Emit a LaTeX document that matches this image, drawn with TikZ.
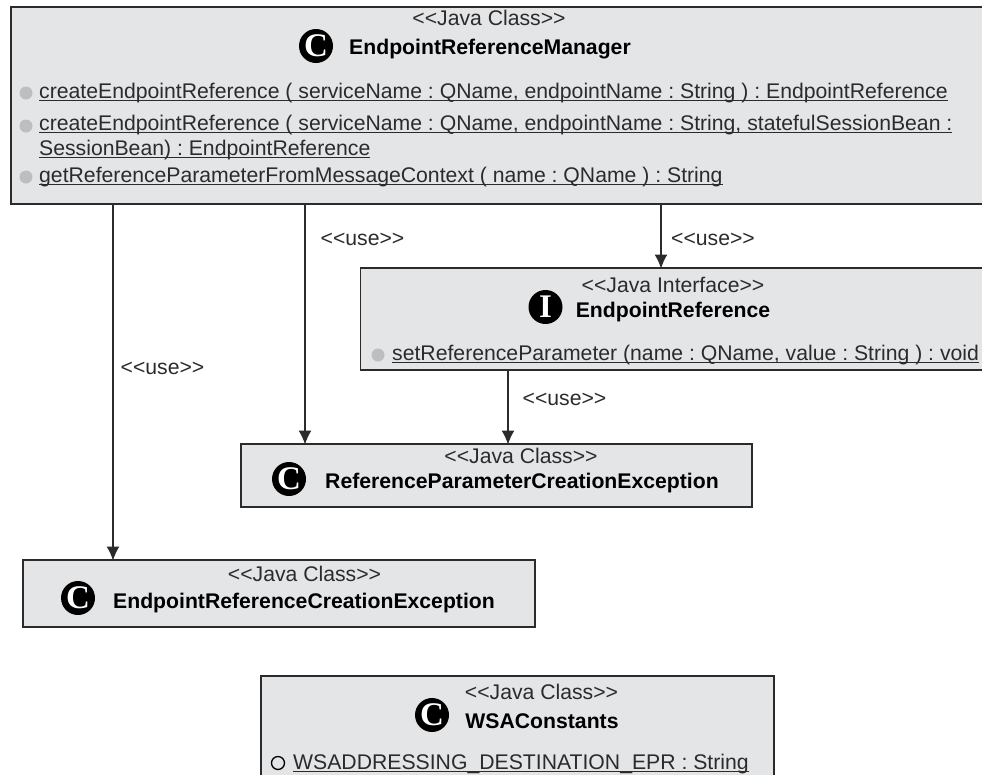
\documentclass[tikz,border=0pt]{standalone}
\usepackage{fontspec}
\setmainfont{Liberation Sans}
\newfontfamily\iconfont{Liberation Serif}
\usetikzlibrary{arrows.meta}
\definecolor{boxgray}{HTML}{E4E5E7}
\definecolor{dotgray}{HTML}{BDBEC0}
\definecolor{inkgray}{HTML}{2B2B2B}
\newcommand{\ulbl}[1]{\underline{\smash{#1}\rule[-1.2pt]{0pt}{0pt}}}
\newcommand{\stereotxt}[1]{<{}<#1>{}>}
\frenchspacing
\tikzset{
classbox/.style={draw=inkgray,line width=1.5pt,fill=boxgray},
txt/.style={inner sep=0pt,text=inkgray,font=\fontsize{21.2}{21.2}\selectfont},
stereo/.style={txt},
title/.style={inner sep=0pt,text=black,font=\fontsize{21.2}{21.2}\selectfont\bfseries},
member/.style={txt,anchor=base west},
icon/.style={circle,fill=black,text=white,inner sep=0pt,minimum size=34pt,font=\fontsize{33}{33}\iconfont\bfseries},
dot/.style={circle,fill=dotgray,inner sep=0pt,minimum size=13pt},
ring/.style={circle,draw=black,line width=1.3pt,inner sep=0pt,minimum size=13pt},
uselink/.style={draw=inkgray,line width=1.3pt,-{Latex[length=14pt,width=13pt]},shorten >=-0.5pt},
}
\begin{document}
\begin{tikzpicture}[x=1pt,y=-1pt]
\useasboundingbox (0,0) rectangle (982,774);
\clip (0,0) rectangle (982,774);
\draw[classbox](11,7) rectangle (1000,204);
\draw[classbox](360.5,268) rectangle (1000,370);
\draw[classbox](241,444) rectangle (752,507);
\draw[classbox](23,560) rectangle (535,627);
\draw[classbox](261,676) rectangle (774,800);
\coordinate (mgrA) at (113,204);
\coordinate (mgrB) at (305,204);
\coordinate (mgrC) at (661,204);
\coordinate (ifcA) at (508,370);
\coordinate (refTop) at (500,444);
\coordinate (ifcTop) at (661,268);
\coordinate (excTop) at (113,560);
\draw[uselink](mgrA)--(excTop);
\draw[uselink](mgrB)--(mgrB|-refTop);
\draw[uselink](mgrC)--(ifcTop);
\draw[uselink](ifcA)--(ifcA|-refTop);
\node[txt] (useA) at (162.5,368) {\stereotxt{use}};
\node[txt] (useB) at (362.5,239) {\stereotxt{use}};
\node[txt] (useC) at (713,239) {\stereotxt{use}};
\node[txt] (useD) at (564.5,399) {\stereotxt{use}};
% EndpointReferenceManager
\node[stereo] (mgrStereo) at (489,18) {\stereotxt{Java Class}};
\node[icon] (mgrIcon) at (316,46) {C};
\node[title] (mgrTitle) at (490,49) {EndpointReferenceManager};
\node[dot] (mgrDotA) at (26,93) {};
\node[member] (mgrOpA) at (39,98) {\ulbl{createEndpointReference ( serviceName : QName, endpointName : String ) : EndpointReference}};
\node[dot] (mgrDotB) at (26,126) {};
\node[member] (mgrOpB) at (39,130) {\ulbl{createEndpointReference ( serviceName : QName, endpointName : String, statefulSessionBean :}};
\node[member] (mgrOpBb) at (39,155) {\ulbl{SessionBean) : EndpointReference}};
\node[dot] (mgrDotC) at (26,177) {};
\node[member] (mgrOpC) at (39,182) {\ulbl{getReferenceParameterFromMessageContext ( name : QName ) : String}};
% EndpointReference
\node[stereo] (ifcStereo) at (673,285) {\stereotxt{Java Interface}};
\node[icon] (ifcIcon) at (545.5,307) {I};
\node[title] (ifcTitle) at (673,312) {EndpointReference};
\node[dot] (ifcDot) at (378,355) {};
\node[member] (ifcOp) at (392,360) {\ulbl{setReferenceParameter (name : QName, value : String ) : void}};
% exceptions
\node[stereo] (refStereo) at (521,456) {\stereotxt{Java Class}};
\node[icon] (refIcon) at (289,479) {C};
\node[title] (refTitle) at (522,483) {ReferenceParameterCreationException};
\node[stereo] (excStereo) at (304.5,574) {\stereotxt{Java Class}};
\node[icon] (excIcon) at (78,598) {C};
\node[title] (excTitle) at (304,603) {EndpointReferenceCreationException};
% WSAConstants
\node[stereo] (wsaStereo) at (541.5,692) {\stereotxt{Java Class}};
\node[icon] (wsaIcon) at (432,715) {C};
\node[title] (wsaTitle) at (542,721) {WSAConstants};
\node[ring] (wsaRing) at (278,763) {};
\node[member] (wsaAttr) at (293,769) {\ulbl{WSADDRESSING\_DESTINATION\_EPR : String}};
\end{tikzpicture}
\end{document}
